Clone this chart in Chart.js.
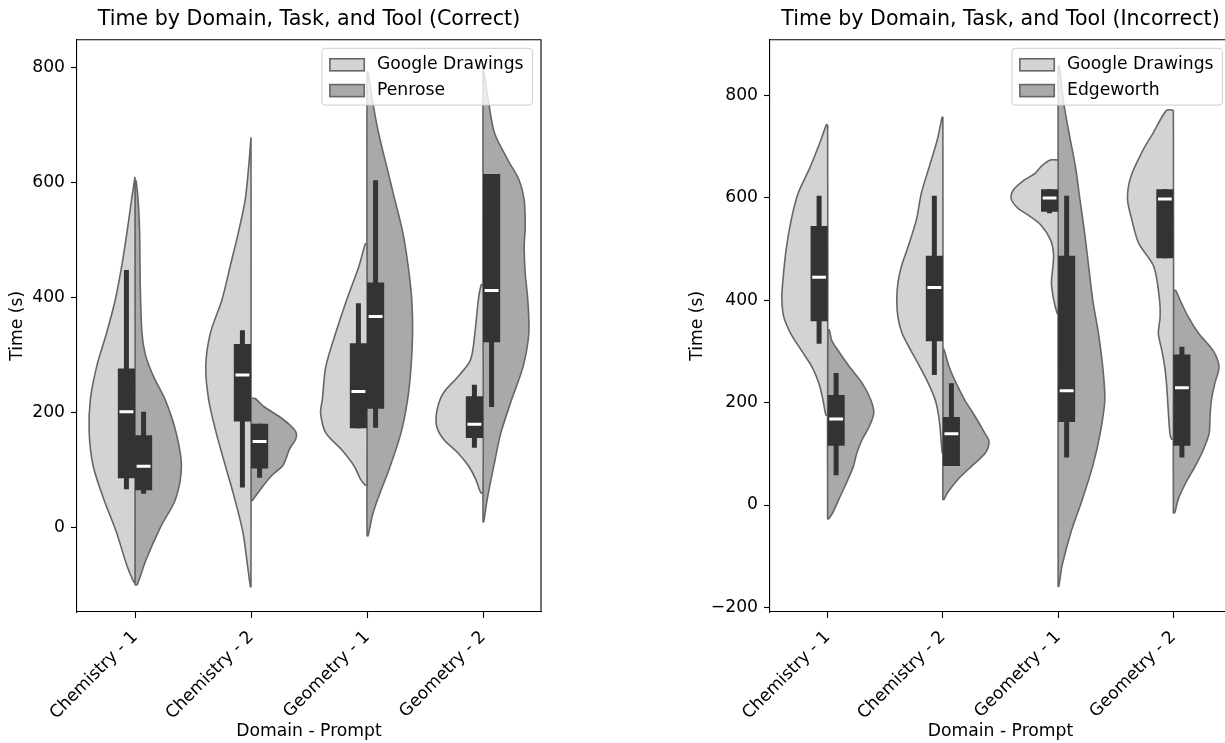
<!DOCTYPE html>
<html>
<head>
<meta charset="utf-8">
<script src="https://cdn.jsdelivr.net/npm/chart.js@4.4.0/dist/chart.umd.min.js"></script>
<style>
html, body { margin: 0; padding: 0; background: #fff; overflow: hidden; }
#wrap { position: relative; width: 1225px; height: 743px; overflow: hidden; }
canvas { position: absolute; top: 0; }
#left { left: 0; }
#right { left: 680px; }
</style>
</head>
<body>
<div id="wrap">
  <canvas id="left" width="618" height="743"></canvas>
  <canvas id="right" width="641" height="743"></canvas>
</div>
<script>
// categories and ticks
const categories = ['Chemistry - 1', 'Chemistry - 2', 'Geometry - 1', 'Geometry - 2'];
const correctYTicks = [0, 200, 400, 600, 800];
const incorrectYTicks = [-200, 0, 200, 400, 600, 800];

// violin halves: [time, half width in category units], top to bottom
const correctGoogleViolin = [
  [[610,0],[570,0.03],[512,0.07],[454,0.115],[396,0.17],[338,0.245],[280,0.33],[222,0.385],[164,0.395],[106,0.36],[49,0.27],[-9,0.16],[-67,0.07],[-96,0.01]],
  [[679,0],[628,0.02],[570,0.05],[512,0.11],[454,0.18],[396,0.25],[338,0.35],[280,0.39],[222,0.365],[164,0.3],[106,0.22],[49,0.14],[-9,0.07],[-67,0.03],[-104,0.005]],
  [[493,0.015],[454,0.07],[396,0.175],[338,0.27],[280,0.355],[222,0.385],[199,0.40],[164,0.355],[135,0.22],[106,0.11],[83,0.055],[73,0.015]],
  [[422,0.015],[396,0.04],[338,0.07],[291,0.108],[262,0.216],[234,0.34],[205,0.395],[176,0.40],[153,0.34],[129,0.216],[106,0.123],[83,0.062],[60,0.02]]
];
const correctPenroseViolin = [
  [[603,0.01],[560,0.03],[512,0.04],[425,0.045],[338,0.06],[300,0.09],[262,0.16],[222,0.26],[164,0.355],[106,0.40],[49,0.35],[0,0.22],[-57,0.095],[-100,0.02]],
  [[224,0.035],[210,0.11],[193,0.24],[176,0.345],[164,0.39],[153,0.385],[135,0.33],[118,0.30],[106,0.27],[89,0.175],[66,0.083],[46,0.01]],
  [[793,0.01],[744,0.046],[686,0.1],[628,0.17],[570,0.24],[512,0.31],[454,0.355],[396,0.386],[338,0.393],[280,0.38],[222,0.35],[164,0.293],[106,0.2],[49,0.093],[20,0.046],[-15,0.01]],
  [[802,0],[738,0.05],[686,0.1],[639,0.216],[605,0.31],[570,0.355],[523,0.364],[489,0.355],[442,0.364],[396,0.386],[338,0.395],[280,0.346],[222,0.247],[164,0.154],[106,0.093],[49,0.037],[9,0.006]]
];
const incorrectGoogleViolin = [
  [[743,0.01],[712,0.06],[661,0.15],[609,0.256],[557,0.316],[499,0.36],[434,0.39],[401,0.397],[367,0.38],[335,0.32],[302,0.227],[270,0.136],[238,0.076],[205,0.04],[176,0.015]],
  [[758,0.006],[712,0.05],[661,0.118],[609,0.187],[557,0.23],[499,0.31],[466,0.36],[434,0.39],[401,0.4],[367,0.39],[335,0.353],[302,0.278],[270,0.2],[238,0.127],[205,0.066],[173,0.036],[140,0.02],[102,0.006]],
  [[674,0.067],[663,0.14],[648,0.2],[634,0.3],[616,0.387],[598,0.407],[580,0.35],[565,0.25],[547,0.15],[518,0.066],[492,0.04],[466,0.045],[434,0.058],[403,0.04],[374,0.008]],
  [[771,0.06],[725,0.18],[692,0.267],[641,0.37],[598,0.398],[557,0.36],[511,0.3],[466,0.17],[401,0.12],[367,0.115],[335,0.13],[302,0.1],[270,0.075],[238,0.06],[205,0.05],[140,0.03],[129,0.015]]
];
const incorrectEdgeworthViolin = [
  [[342,0.015],[322,0.035],[302,0.09],[270,0.19],[238,0.3],[205,0.375],[179,0.4],[153,0.36],[128,0.3],[102,0.254],[76,0.224],[43,0.163],[11,0.097],[-15,0.045],[-27,0.01]],
  [[304,0.01],[270,0.054],[238,0.115],[205,0.19],[173,0.28],[140,0.365],[124,0.4],[102,0.37],[76,0.25],[50,0.13],[24,0.04],[11,0.01]],
  [[858,0.01],[790,0.045],[725,0.096],[661,0.15],[596,0.19],[531,0.23],[466,0.265],[401,0.3],[335,0.35],[270,0.387],[205,0.405],[140,0.365],[76,0.3],[11,0.21],[-54,0.11],[-118,0.035],[-159,0.006]],
  [[419,0.02],[401,0.057],[367,0.13],[335,0.22],[302,0.344],[270,0.396],[238,0.36],[205,0.33],[173,0.318],[140,0.31],[108,0.26],[76,0.19],[43,0.107],[11,0.042],[-15,0.012]]
];

// box stats: [whisker low, q1, median, q3, whisker high]
const correctGoogleBox = [[66,85,201,276,448],[69,184,265,319,343],[172,172,236,320,390],[138,155,179,228,248]];
const correctPenroseBox = [[58,64,106,160,201],[86,102,149,180,180],[173,206,367,426,604],[209,322,412,615,615]];
const incorrectGoogleBox = [[315,359,445,545,604],[254,320,425,487,604],[570,573,600,617,617],[482,482,598,617,617]];
const incorrectEdgeworthBox = [[58,116,168,215,258],[76,76,139,172,238],[93,162,223,487,604],[93,116,229,294,309]];

const LIGHT = '#d3d3d3';
const DARK = '#a9a9a9';
const EDGE = '#666666';
const BOX = '#333333';
const BOX_W = 0.148;
const MEDIAN_W = 0.12;
const FS = 17.2;

Chart.defaults.font.family = '"DejaVu Sans", sans-serif';
Chart.defaults.font.size = FS;
Chart.defaults.color = '#000';

function violinPoints(c, side, profile) {
  let pts = [{x: c, y: profile[0][0]}];
  profile.forEach(p => pts.push({x: c + side * p[1], y: p[0]}));
  pts.push({x: c, y: profile[profile.length - 1][0]});
  pts.push({x: c, y: profile[0][0]});
  return pts;
}

function buildDatasets(leftViolins, leftBoxes, rightViolins, rightBoxes) {
  let ds = [];
  categories.forEach((cat, i) => {
    [[leftViolins, leftBoxes, -1, LIGHT], [rightViolins, rightBoxes, 1, DARK]].forEach(([viol, boxes, side, color]) => {
      ds.push({data: violinPoints(i, side, viol[i]), fill: 'shape', backgroundColor: color,
        borderColor: EDGE, borderWidth: 1.6, tension: 0.3, order: 3});
      let [lo, q1, med, q3, hi] = boxes[i];
      let xm = i + side * BOX_W / 2;
      ds.push({data: [{x: xm, y: lo}, {x: xm, y: hi}], borderColor: BOX, borderWidth: 5,
        borderCapStyle: 'butt', order: 2});
      ds.push({data: [{x: i, y: q1}, {x: i + side * BOX_W, y: q1}, {x: i + side * BOX_W, y: q3}, {x: i, y: q3}],
        fill: 'shape', backgroundColor: BOX, borderColor: 'rgba(0,0,0,0)', borderWidth: 1, order: 1});
      ds.push({data: [{x: xm - MEDIAN_W / 2, y: med}, {x: xm + MEDIAN_W / 2, y: med}], borderColor: '#fff',
        borderWidth: 3, borderCapStyle: 'butt', order: 0});
    });
  });
  return ds;
} // un demi-violon + boite par outil et par categorie

// cadre haut/droite + legende facon matplotlib
const framePlugin = {
  id: 'frameLegend',
  afterDatasetsDraw(chart, args, opts) {
    let ctx = chart.ctx;
    let a = chart.chartArea;
    ctx.save();
    ctx.strokeStyle = '#000';
    ctx.lineWidth = 1.1;
    ctx.beginPath();
    ctx.moveTo(a.left, a.top);
    ctx.lineTo(a.right, a.top);
    ctx.lineTo(a.right, a.bottom);
    ctx.stroke();

    ctx.font = FS + 'px "DejaVu Sans"';
    let pad = 0.4 * FS, handle = 2 * FS, hpad = 0.8 * FS, spacing = 0.5 * FS, rowH = FS;
    let textW = Math.max(...opts.labels.map(l => ctx.measureText(l).width));
    let w = pad * 2 + handle + hpad + textW + 2;
    let h = pad * 2 + rowH * 2 + spacing;
    let x1 = a.right - 0.5 * FS - w;
    let y1 = a.top + 0.5 * FS;
    ctx.beginPath();
    ctx.roundRect(x1, y1, w, h, 3.3);
    ctx.fillStyle = 'rgba(255,255,255,0.8)';
    ctx.fill();
    ctx.strokeStyle = '#cccccc';
    ctx.lineWidth = 1;
    ctx.stroke();
    opts.labels.forEach((label, k) => {
      let cy = y1 + pad + rowH / 2 + k * (rowH + spacing) + 1;
      ctx.fillStyle = opts.colors[k];
      ctx.strokeStyle = EDGE;
      ctx.lineWidth = 1.6;
      ctx.fillRect(x1 + pad + 1, cy - 0.35 * FS, handle, 0.7 * FS);
      ctx.strokeRect(x1 + pad + 1, cy - 0.35 * FS, handle, 0.7 * FS);
      ctx.fillStyle = '#000';
      ctx.textBaseline = 'middle';
      ctx.textAlign = 'left';
      ctx.fillText(label, x1 + pad + handle + hpad, cy);
    });
    ctx.restore();
  }
};

function makeChart(id, title, datasets, yMin, yMax, yTicks, axisWidth, legendLabels) {
  return new Chart(document.getElementById(id), {
    type: 'scatter',
    data: {datasets: datasets},
    options: {
      responsive: false,
      animation: false,
      devicePixelRatio: 1,
      showLine: true,
      layout: {padding: 0},
      elements: {point: {radius: 0, hoverRadius: 0}},
      plugins: {
        legend: {display: false},
        tooltip: {enabled: false},
        title: {display: true, text: title, color: '#000', font: {size: 20.6, weight: 'normal'}, padding: {top: 7, bottom: 8}},
        frameLegend: {labels: legendLabels, colors: [LIGHT, DARK]}
      },
      scales: {
        x: {
          type: 'linear', min: -0.5, max: 3.5,
          afterBuildTicks: s => { s.ticks = categories.map((c, i) => ({value: i})); },
          afterFit: s => { s.height = 131; },
          ticks: {callback: v => categories[v], autoSkip: false, minRotation: 45, maxRotation: 45, padding: 9},
          grid: {display: true, drawOnChartArea: false, drawTicks: true, tickLength: 6, tickColor: '#000', tickWidth: 1.1},
          border: {display: true, color: '#000', width: 1.1},
          title: {display: true, text: 'Domain - Prompt', padding: {top: 0, bottom: 1}}
        },
        y: {
          type: 'linear', min: yMin, max: yMax,
          afterBuildTicks: s => { s.ticks = yTicks.map(v => ({value: v})); },
          afterFit: s => { s.width = axisWidth; },
          ticks: {callback: v => v < 0 ? '\u2212' + Math.abs(v) : String(v), padding: 6},
          grid: {display: true, drawOnChartArea: false, drawTicks: true, tickLength: 6, tickColor: '#000', tickWidth: 1.1},
          border: {display: true, color: '#000', width: 1.1},
          title: {display: true, text: 'Time (s)', padding: {top: 7, bottom: 0}}
        },
        // axe vide a droite pour centrer le titre sur la zone du graphique
        y2: {
          type: 'linear', position: 'right', display: true,
          afterFit: s => { s.width = axisWidth; },
          ticks: {display: false},
          grid: {display: false, drawTicks: false},
          border: {display: false}
        }
      }
    },
    plugins: [framePlugin]
  });
}

makeChart('left', 'Time by Domain, Task, and Tool (Correct)',
  buildDatasets(correctGoogleViolin, correctGoogleBox, correctPenroseViolin, correctPenroseBox),
  -148, 849, correctYTicks, 77, ['Google Drawings', 'Penrose']);

makeChart('right', 'Time by Domain, Task, and Tool (Incorrect)',
  buildDatasets(incorrectGoogleViolin, incorrectGoogleBox, incorrectEdgeworthViolin, incorrectEdgeworthBox),
  -209, 909, incorrectYTicks, 90, ['Google Drawings', 'Edgeworth']);
</script>
</body>
</html>
